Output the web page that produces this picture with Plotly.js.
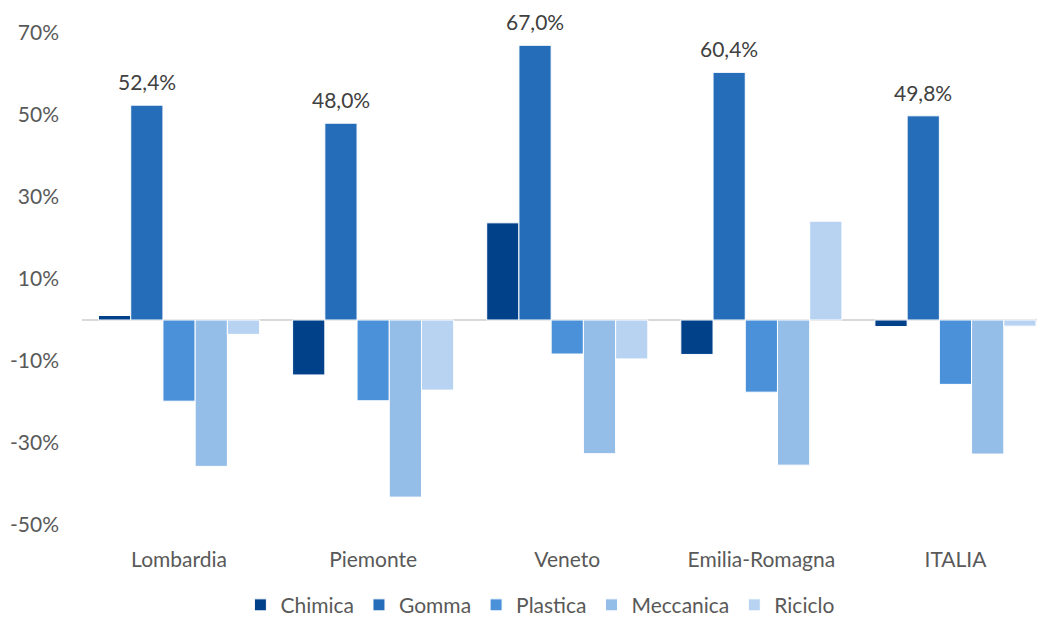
<!DOCTYPE html>
<html>
<head>
<meta charset="utf-8">
<script src="https://cdn.plot.ly/plotly-3.0.1.min.js"></script>
<style>html,body{margin:0;padding:0;background:#fff;}#chart{width:1037px;height:618px;}</style>
</head>
<body>
<div id="chart"></div>
<script>
const categories = ["Lombardia", "Piemonte", "Veneto", "Emilia-Romagna", "ITALIA"];
const seriesNames = ["Chimica", "Gomma", "Plastica", "Meccanica", "Riciclo"];
const chimica   = [1.1, -13.4, 23.7, -8.4, -1.6];
const gomma     = [52.4, 48.0, 67.0, 60.4, 49.8];
const plastica  = [-19.8, -19.7, -8.3, -17.6, -15.7];
const meccanica = [-35.7, -43.2, -32.6, -35.4, -32.7];
const riciclo   = [-3.5, -17.1, -9.5, 24.1, -1.5];
const tickVals  = [70, 50, 30, 10, -10, -30, -50];
const tickText  = ["70%", "50%", "30%", "10%", "-10%", "-30%", "-50%"];

const colors = ["#01418A", "#256DB8", "#4A91DA", "#94BDE8", "#B8D3F1"];
const values = [chimica, gomma, plastica, meccanica, riciclo];
const FONT = "Lato, 'Open Sans', sans-serif";
const GREY = "#595959";

const traces = values.map((v, i) => ({
  type: "bar",
  name: seriesNames[i],
  x: categories,
  y: v,
  marker: { color: colors[i], line: { color: "#ffffff", width: 1 } },
  hoverinfo: "x+y+name"
}));

const annotations = categories.map((c, i) => ({
  x: c, y: gomma[i], xref: "x", yref: "y",
  text: gomma[i].toFixed(1).replace(".", ",") + "%",
  showarrow: false, yanchor: "bottom", xshift: -32.3, yshift: 9,
  font: { family: FONT, size: 21, color: "#404040" }
}));

const layout = {
  width: 1037, height: 618,
  margin: { l: 82, r: 0, t: 33, b: 93, autoexpand: false },
  paper_bgcolor: "#ffffff", plot_bgcolor: "#ffffff",
  barmode: "group", bargap: 0.17, bargroupgap: 0,
  font: { family: FONT, size: 21, color: GREY },
  xaxis: {
    type: "category", range: [-0.5, 4.42], showgrid: false, showline: false,
    zeroline: false, ticks: "", tickfont: { family: FONT, size: 21, color: GREY },
    ticklabelstandoff: 20, fixedrange: true, automargin: false
  },
  yaxis: {
    range: [-50, 70], tickvals: tickVals, ticktext: tickText, showgrid: false,
    zeroline: true, zerolinecolor: "#D9D9D9", zerolinewidth: 2, showline: false,
    ticks: "", ticklabelstandoff: 22, tickfont: { family: FONT, size: 21, color: GREY },
    fixedrange: true, automargin: false
  },
  showlegend: true,
  legend: {
    orientation: "h", x: 0.48, xanchor: "center", y: -0.163, yanchor: "middle",
    font: { family: FONT, size: 21, color: GREY }, itemwidth: 30, traceorder: "normal",
    tracegroupgap: 0
  },
  annotations: annotations
};

Plotly.newPlot("chart", traces, layout, { displayModeBar: false, staticPlot: true });
</script>
</body>
</html>
